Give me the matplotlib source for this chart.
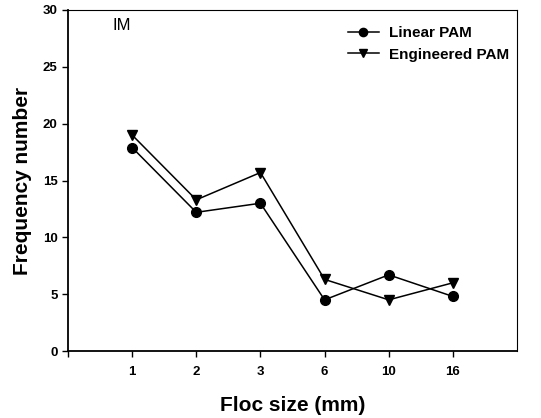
import numpy as np
import matplotlib
matplotlib.use("Agg")
import matplotlib.pyplot as plt

plt.rcParams['font.family'] = ['Liberation Sans', 'DejaVu Sans']

sizes = ['1', '2', '3', '6', '10', '16']
linear_pam = [17.9, 12.2, 13.0, 4.5, 6.7, 4.8]
engineered_pam = [19.0, 13.3, 15.7, 6.3, 4.5, 6.0]

x = np.arange(1, len(sizes) + 1)

fig = plt.figure(figsize=(5.41, 4.18), dpi=100)
ax = fig.add_axes([68 / 541, 1 - 351 / 418, (517 - 68) / 541, (351 - 10) / 418])

ax.plot(x, linear_pam, color='black', lw=1.1, marker='o', markersize=7,
        label='Linear PAM')
ax.plot(x, engineered_pam, color='black', lw=1.1, marker='v', markersize=7,
        label='Engineered PAM')

ax.set_xlim(0, 7)
ax.set_ylim(0, 30)
ax.set_xticks(range(0, 7))
ax.set_xticklabels([''] + sizes)
ax.set_yticks(range(0, 31, 5))
ax.tick_params(direction='out', length=4, width=1, labelsize=9.5)
for lab in ax.get_xticklabels() + ax.get_yticklabels():
    lab.set_fontweight('bold')
ax.tick_params(axis='x', pad=7)

for s in ['left', 'bottom']:
    ax.spines[s].set_linewidth(1.3)
for s in ['top', 'right']:
    ax.spines[s].set_linewidth(0.8)

ax.set_xlabel('Floc size (mm)', fontsize=15, fontweight='bold', labelpad=13)
ax.set_ylabel('Frequency number', fontsize=15, fontweight='bold', labelpad=8)

ax.text(0.1, 0.955, 'IM', transform=ax.transAxes, fontsize=12, va='center')

leg = ax.legend(loc='upper right', frameon=False,
                prop={'weight': 'bold', 'size': 11}, handlelength=2.0,
                borderaxespad=0.1, labelspacing=0.5, markerscale=0.85,
                handletextpad=0.7, bbox_to_anchor=(1.0, 0.975))

fig.savefig('out.png', dpi=100)
